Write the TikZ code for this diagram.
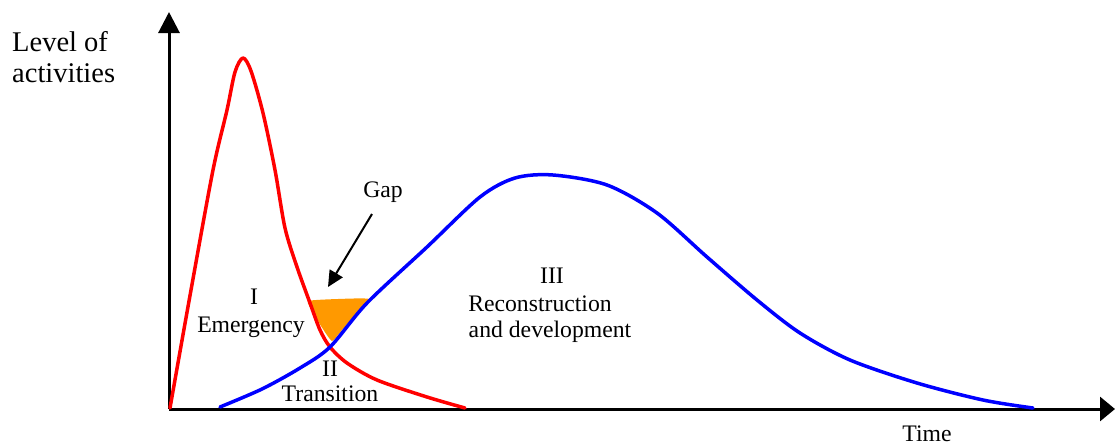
\documentclass[tikz,border=0pt]{standalone}
\usepackage{fontspec}
\setmainfont{Liberation Serif}
\usetikzlibrary{arrows.meta}
\definecolor{curvered}{RGB}{255,0,0}
\definecolor{curveblue}{RGB}{0,0,255}
\definecolor{gaporange}{RGB}{255,153,0}
\begin{document}
\begin{tikzpicture}[x=1pt,y=-1pt,
  lbl/.style={inner sep=0pt,font=\fontsize{23.7}{28}\selectfont},
  biglbl/.style={inner sep=0pt,font=\fontsize{28.5}{32}\selectfont,align=left},
  axis/.style={line width=3pt,black},
  curve/.style={line width=3.5pt,line join=round,line cap=round}]
\useasboundingbox (0,0) rectangle (1115,445);

% axes
\coordinate (origin) at (169,409);
\coordinate (ytop) at (169,12);
\coordinate (xend) at (1115,409);
\draw[axis,-{Triangle[length=21pt,width=21pt]}] (origin) -- (ytop);
\draw[axis,-{Triangle[length=15pt,width=24pt]}] (origin) -- (xend);

% gap between the two phases
\fill[gaporange] plot[smooth cycle,tension=0.3] coordinates
  {(308,301) (338,299) (369,299) (356,314) (342,330) (332,341) (321,326) (313,312)};

% emergency curve
\draw[curve,curvered] plot[smooth,tension=0.5] coordinates
  {(170,408) (191,290) (213,170) (227,110) (235,72) (243,58) (251,71)
   (263,113) (275,170) (285,228) (297,267) (310,303) (320,330) (330,347)
   (347,363) (377,380) (427,397) (465,408)};

% reconstruction curve
\draw[curve,curveblue] plot[smooth,tension=0.5] coordinates
  {(220,407) (262,389) (300,368) (330,347) (367,303) (427,247) (480,197)
   (515,178) (553,175) (607,185) (657,213) (707,257) (757,300)
   (800,333) (850,360) (917,383) (983,400) (1033,408)};

% labels
\node[biglbl,anchor=west] (ylab1) at (12,42) {Level of};
\node[biglbl,anchor=west] (ylab2) at (12,73) {activities};
\node[lbl] (time) at (927,434) {Time};
\node[lbl] (gap) at (383,192) {Gap};
\node[lbl] (ph1) at (254,297) {I};
\node[lbl] (ph1b) at (251,327) {Emergency};
\node[lbl] (ph2) at (330,369) {II};
\node[lbl] (ph2b) at (330,394) {Transition};
\node[lbl] (ph3) at (552,276) {III};
\node[lbl] (ph3b) at (540,304) {Reconstruction};
\node[lbl] (ph3c) at (550,332) {and development};

% arrow to the gap
\coordinate (gaptail) at (372,214);
\coordinate (gaptip) at (328,287);
\draw[line width=2pt,-{Triangle[length=16pt,width=15pt]}] (gaptail) -- (gaptip);
\end{tikzpicture}
\end{document}
